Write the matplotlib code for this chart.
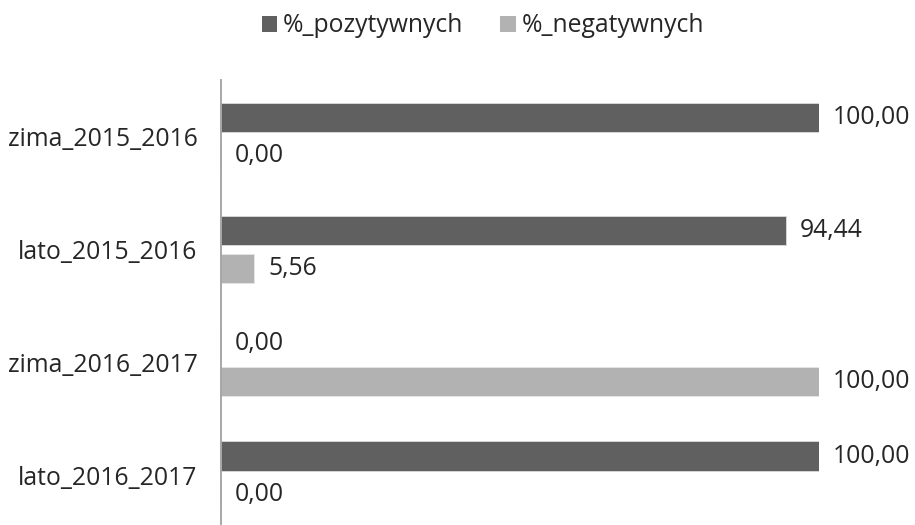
import matplotlib
matplotlib.use("Agg")
import matplotlib.pyplot as plt
from matplotlib.patches import Patch
import numpy as np

categories = ["zima_2015_2016", "lato_2015_2016", "zima_2016_2017", "lato_2016_2017"]
pozytywnych = [100.00, 94.44, 0.00, 100.00]
negatywnych = [0.00, 5.56, 100.00, 0.00]
series_names = ["%_pozytywnych", "%_negatywnych"]

DARK = "#606060"
LIGHT = "#b2b2b2"
TEXT = "#262626"
FS = 17.8

plt.rcParams["font.family"] = ["Open Sans", "DejaVu Sans"]

fig = plt.figure(figsize=(9.15, 5.25), dpi=100)
W, H = 915, 525
ax = fig.add_axes([221 / W, 0, 598 / W, 445 / H])

y = np.arange(len(categories))
bar_h = 0.26
off = 0.17

b1 = ax.barh(y - off, pozytywnych, height=bar_h, color=DARK,
             edgecolor="#dcdcdc", linewidth=0.6)
b2 = ax.barh(y + off, negatywnych, height=bar_h, color=LIGHT,
             edgecolor="#e6e6e6", linewidth=0.6)

fmt = lambda v: f"{v:.2f}".replace(".", ",")
for cont, vals in ((b1, pozytywnych), (b2, negatywnych)):
    ax.bar_label(cont, labels=[fmt(v) for v in vals], padding=10,
                 fontsize=FS, color=TEXT, clip_on=False)

ax.set_xlim(0, 100)
ax.set_ylim(3.44, -0.5)
ax.set_yticks(y)
ax.set_yticklabels(categories, fontsize=FS, color=TEXT)
ax.tick_params(axis="y", length=0, pad=17)
ax.set_xticks([])

for s in ("top", "right", "bottom"):
    ax.spines[s].set_visible(False)
ax.spines["left"].set_color("#a0a0a0")
ax.spines["left"].set_linewidth(1.3)

handles = [Patch(facecolor=DARK, edgecolor="none"),
           Patch(facecolor=LIGHT, edgecolor="none")]
fig.legend(handles, series_names, loc="center",
           bbox_to_anchor=(483 / W, 1 - 26 / H), ncol=2, frameon=False,
           fontsize=FS, labelcolor=TEXT, handlelength=0.62, handleheight=0.62,
           handletextpad=0.25, columnspacing=1.5)

fig.savefig("out.png", dpi=100)
